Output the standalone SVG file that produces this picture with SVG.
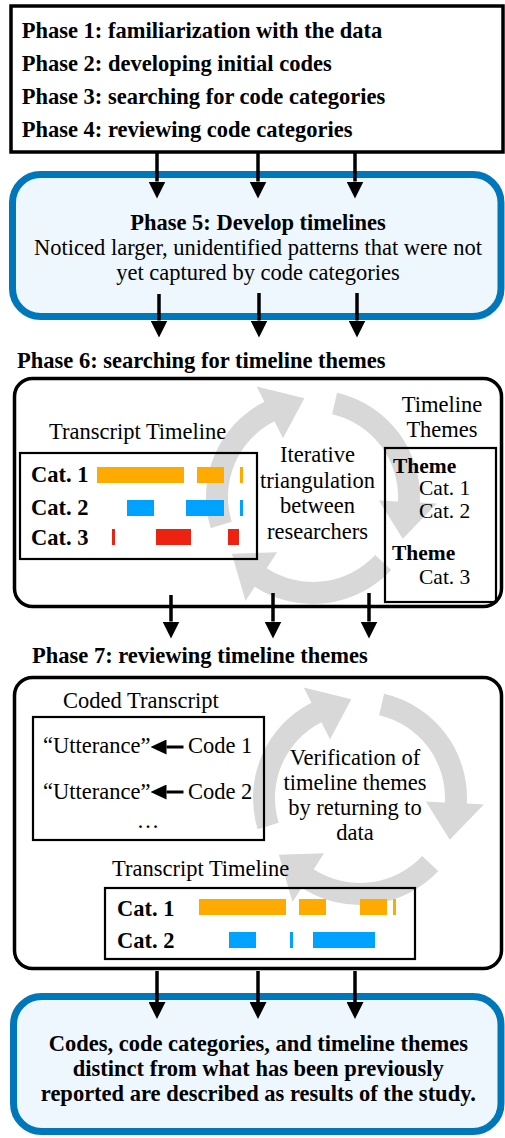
<svg xmlns="http://www.w3.org/2000/svg" xmlns:xlink="http://www.w3.org/1999/xlink" width="505" height="1138" viewBox="0 0 505 1138">
<style>
text{font-family:"Liberation Serif","Times New Roman",serif;font-size:22.5px;fill:#000}
.b{font-weight:bold}
.c{text-anchor:middle}
.t{font-size:21.5px}
.box{fill:#fff;stroke:#000;stroke-width:3.5}
.blue{fill:#EEF6FE;stroke:#0077BB;stroke-width:7}
.inner{fill:none;stroke:#000;stroke-width:2.2}
.ln{stroke:#000;stroke-width:3.5;fill:none}
.lns{stroke:#000;stroke-width:3;fill:none}
.o{fill:#FFAA00}.bl{fill:#00A2FF}.r{fill:#EE2211}
</style>
<defs>
<marker id="ah" markerUnits="userSpaceOnUse" markerWidth="17" markerHeight="17" viewBox="0 0 17 17" refX="0" refY="8.5" orient="auto"><path d="M0,0 L17,8.5 L0,17 Z" fill="#000"/></marker>
<marker id="ahs" markerUnits="userSpaceOnUse" markerWidth="16" markerHeight="15" viewBox="0 0 16 15" refX="0" refY="7.5" orient="auto"><path d="M0,0 L16,7.5 L0,15 Z" fill="#000"/></marker>
<path id="cyc" fill="#D8D8D8" d="M78.26,72.97 A107,107 0 0 1 -58.27,89.74 L-67.53,104.0 L-81.10,56.79 L-35.94,55.35 L-46.29,71.29 A85,85 0 0 0 62.17,57.97 Z"/>
</defs>

<g id="phases1-4">
<rect class="box" x="11" y="6" width="492" height="146"/>
<text class="b" x="21.7" y="37.5">Phase 1: familiarization with the data</text>
<text class="b" x="21.7" y="70.5">Phase 2: developing initial codes</text>
<text class="b" x="21.7" y="103.5">Phase 3: searching for code categories</text>
<text class="b" x="21.7" y="136.5">Phase 4: reviewing code categories</text>
</g>

<g id="phase5">
<rect class="blue" x="12.5" y="174.5" width="488.5" height="142" rx="28"/>
<text class="b c" x="258" y="230">Phase 5: Develop timelines</text>
<text class="c" x="258" y="255">Noticed larger, unidentified patterns that were not</text>
<text class="c" x="258" y="280">yet captured by code categories</text>
</g>

<g id="phase6">
<text class="b" x="17" y="368">Phase 6: searching for timeline themes</text>
<rect class="box" x="14.5" y="378.5" width="487" height="228" rx="18"/>
<g id="cycle6">
<use href="#cyc" xlink:href="#cyc" transform="translate(313,497)"/>
<use href="#cyc" xlink:href="#cyc" transform="translate(313,497) rotate(120)"/>
<use href="#cyc" xlink:href="#cyc" transform="translate(313,497) rotate(240)"/>
</g>
<text x="49" y="439">Transcript Timeline</text>
<rect class="inner" x="20" y="453" width="237" height="106"/>
<text class="b" x="31" y="482">Cat. 1</text>
<text class="b" x="31" y="515">Cat. 2</text>
<text class="b" x="31" y="545">Cat. 3</text>
<rect class="o" x="97" y="467" width="87" height="16"/>
<rect class="o" x="197" y="467" width="27" height="16"/>
<rect class="o" x="240" y="467" width="3" height="16"/>
<rect class="bl" x="127" y="500" width="27" height="16"/>
<rect class="bl" x="186" y="500" width="38" height="16"/>
<rect class="bl" x="240" y="500" width="3" height="16"/>
<rect class="r" x="112" y="529" width="3" height="16"/>
<rect class="r" x="156" y="529" width="35" height="16"/>
<rect class="r" x="228" y="529" width="11" height="16"/>
<text class="c" x="317.5" y="462">Iterative</text>
<text class="c" x="317.5" y="487.5">triangulation</text>
<text class="c" x="317.5" y="513">between</text>
<text class="c" x="317.5" y="538.5">researchers</text>
<text class="c" x="442" y="411.7">Timeline</text>
<text class="c" x="442" y="437.3">Themes</text>
<rect class="inner" x="385" y="448" width="111" height="154"/>
<text class="b t" x="393" y="472.5">Theme</text>
<text class="t" x="419" y="495">Cat. 1</text>
<text class="t" x="419" y="517.5">Cat. 2</text>
<text class="b t" x="392" y="560">Theme</text>
<text class="t" x="419" y="584">Cat. 3</text>
</g>

<g id="phase7">
<text class="b" x="32" y="663">Phase 7: reviewing timeline themes</text>
<rect class="box" x="14.5" y="677.5" width="487" height="291" rx="18"/>
<g id="cycle7">
<use href="#cyc" xlink:href="#cyc" transform="translate(360,798)"/>
<use href="#cyc" xlink:href="#cyc" transform="translate(360,798) rotate(120)"/>
<use href="#cyc" xlink:href="#cyc" transform="translate(360,798) rotate(240)"/>
</g>
<text x="63" y="708">Coded Transcript</text>
<rect class="inner" x="33" y="717" width="231" height="123"/>
<text x="43" y="753">“Utterance”</text>
<text x="188" y="753">Code 1</text>
<text x="43" y="799">“Utterance”</text>
<text x="188" y="799">Code 2</text>
<text class="c" x="148" y="828">…</text>
<text class="c" x="355" y="764.5">Verification of</text>
<text class="c" x="355" y="789.5">timeline themes</text>
<text class="c" x="355" y="815">by returning to</text>
<text class="c" x="355" y="840">data</text>
<text x="112" y="876">Transcript Timeline</text>
<rect class="inner" x="105" y="888" width="310" height="71"/>
<text class="b" x="117" y="916">Cat. 1</text>
<text class="b" x="117" y="948">Cat. 2</text>
<rect class="o" x="199" y="899" width="87" height="16"/>
<rect class="o" x="299" y="899" width="27" height="16"/>
<rect class="o" x="360" y="899" width="27" height="16"/>
<rect class="o" x="393" y="899" width="3" height="16"/>
<rect class="bl" x="229" y="932" width="27" height="16"/>
<rect class="bl" x="290" y="932" width="3" height="16"/>
<rect class="bl" x="313" y="932" width="62" height="16"/>
</g>

<g id="results">
<rect class="blue" x="13.5" y="996.5" width="487.5" height="135" rx="28"/>
<text class="b c" x="258.3" y="1050.5">Codes, code categories, and timeline themes</text>
<text class="b c" x="258.3" y="1075.5">distinct from what has been previously</text>
<text class="b c" x="258.3" y="1100.5">reported are described as results of the study.</text>
</g>

<g id="connectors">
<path class="ln" marker-end="url(#ah)" d="M157,152 V181.5"/>
<path class="ln" marker-end="url(#ah)" d="M258,152 V181.5"/>
<path class="ln" marker-end="url(#ah)" d="M355,152 V181.5"/>
<path class="ln" marker-end="url(#ah)" d="M159,294 V320.5"/>
<path class="ln" marker-end="url(#ah)" d="M259,293 V320.5"/>
<path class="ln" marker-end="url(#ah)" d="M357,293 V320.5"/>
<path class="ln" marker-end="url(#ah)" d="M171,595 V621.5"/>
<path class="ln" marker-end="url(#ah)" d="M273,593 V621.5"/>
<path class="ln" marker-end="url(#ah)" d="M369,593 V621.5"/>
<path class="ln" marker-end="url(#ah)" d="M157,971 V1002"/>
<path class="ln" marker-end="url(#ah)" d="M258,971 V1002"/>
<path class="ln" marker-end="url(#ah)" d="M355,971 V1002"/>
<path class="lns" marker-end="url(#ahs)" d="M183.5,747 H166.5"/>
<path class="lns" marker-end="url(#ahs)" d="M183.5,792 H166.5"/>
</g>
</svg>
